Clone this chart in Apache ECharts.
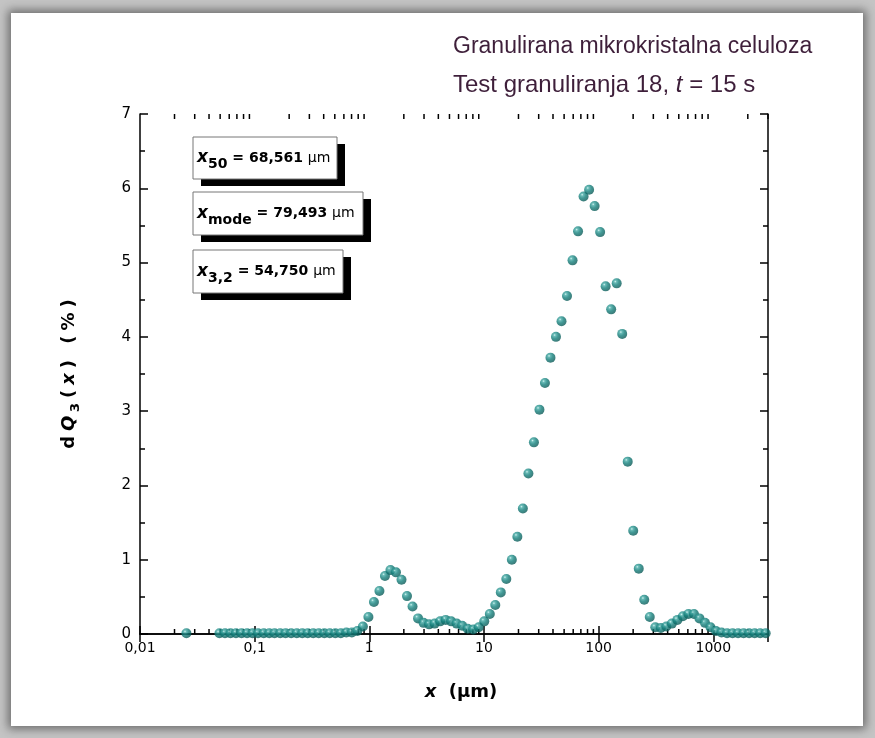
<!DOCTYPE html>
<html><head><meta charset="utf-8">
<script src="https://cdn.jsdelivr.net/npm/echarts@6/dist/echarts.min.js"></script>
<style>
html,body{margin:0;padding:0;width:875px;height:738px;overflow:hidden;background:#c4c4c4;}
#frame{position:absolute;left:11px;top:13px;width:852px;height:713px;background:#fff;box-shadow:0 0 9px 3px rgba(0,0,0,0.45);}
#chart{position:absolute;left:0;top:0;width:875px;height:738px;}
</style></head><body><div id="frame"></div><div id="chart"></div>
<script>
// particle size classes (µm)
const sizes = [0.0254,
  0.0493,0.0551,0.0615,0.0687,0.0768,0.0858,0.0958,0.107,0.120,0.134,
  0.149,0.167,0.186,0.208,0.233,0.260,0.290,0.324,0.362,0.405,
  0.452,0.505,0.564,0.630,0.704,0.786,0.879,0.982,1.097,1.225,
  1.369,1.529,1.708,1.909,2.132,2.382,2.661,2.973,3.321,3.710,
  4.145,4.630,5.173,5.779,6.457,7.213,8.058,9.002,10.06,11.24,
  12.55,14.02,15.67,17.50,19.55,21.84,24.40,27.27,30.46,34.03,
  38.01,42.46,47.45,53.01,59.22,66.15,73.90,82.57,92.24,103.0,
  115.1,128.6,143.7,160.5,179.3,200.3,223.8,250.0,279.3,312.0,
  348.6,389.4,435.1,486.1,543.0,606.7,677.7,757.2,845.9,945.0,
  1056,1179,1318,1472,1644,1837,2052,2293,2562,2862];
// dQ3(x) in %
const dQ3 = [0.01,
  0.01,0.01,0.01,0.01,0.01,0.01,0.01,0.01,0.01,0.01,
  0.01,0.01,0.01,0.01,0.01,0.01,0.01,0.01,0.01,0.01,
  0.01,0.01,0.01,0.02,0.02,0.04,0.10,0.23,0.43,0.58,
  0.78,0.86,0.83,0.73,0.51,0.37,0.21,0.15,0.13,0.14,
  0.17,0.19,0.17,0.14,0.11,0.07,0.06,0.09,0.17,0.27,
  0.39,0.56,0.74,1.00,1.31,1.69,2.16,2.58,3.02,3.38,
  3.72,4.00,4.21,4.55,5.03,5.42,5.89,5.98,5.76,5.41,
  4.68,4.37,4.72,4.04,2.32,1.39,0.88,0.46,0.23,0.09,
  0.08,0.10,0.14,0.19,0.24,0.27,0.27,0.21,0.15,0.09,
  0.04,0.02,0.01,0.01,0.01,0.01,0.01,0.01,0.01,0.01];
const xDecades = [0.01,0.1,1,10,100,1000];
const xTickLabels = ['0,01','0,1','1','10','100','1000'];
const minorMultipliers = [2,3,4,5,6,7,8,9];
const xMin = 0.01, xMax = 3000;
const yMin = 0, yMax = 7, yStep = 1;
const titleLine1 = 'Granulirana mikrokristalna celuloza';
const boxes = [
  {sub:'50', value:'68,561'},
  {sub:'mode', value:'79,493'},
  {sub:'3,2', value:'54,750'}
];

const points = sizes.map((s,i)=>[s,dQ3[i]]);
const minorTicks = [];
xDecades.forEach(d=>minorMultipliers.forEach(m=>{const v=d*m; if(v<=xMax) minorTicks.push([v,yMin]);}));

const chart = echarts.init(document.getElementById('chart'), null, {renderer:'canvas'});
const F = 'DejaVu Sans';
const axisLineStyle = {color:'#000', width:1.5};
const TC = '#3e1f3a';

function labelFmt(v){
  const i = xDecades.findIndex(d=>Math.abs(Math.log10(d)-Math.log10(v))<1e-6);
  return i>=0 ? xTickLabels[i] : '';
}

const boxGeo = [
  {x:193,y:137,w:144,h:42},
  {x:193,y:192,w:170,h:43},
  {x:193,y:250,w:150,h:43}
];
const graphics = [];
boxes.forEach((b,i)=>{
  const g = boxGeo[i];
  graphics.push({type:'rect', shape:{x:g.x+8,y:g.y+7,width:g.w,height:g.h}, style:{fill:'#000'}, z:10});
  graphics.push({type:'rect', shape:{x:g.x,y:g.y,width:g.w,height:g.h}, style:{fill:'#fff',stroke:'#777',lineWidth:1}, z:11});
  graphics.push({type:'text', x:g.x+4, y:g.y+g.h/2, z:12, style:{
    text:'{x|x}{s|'+b.sub+'}{t| = '+b.value+' }{u|µm}',
    verticalAlign:'middle',
    rich:{
      x:{fontFamily:F,fontSize:17,fontStyle:'italic',fontWeight:'bold',fill:'#000'},
      s:{fontFamily:F,fontSize:14,fontWeight:'bold',fill:'#000',padding:[13,0,0,0]},
      t:{fontFamily:F,fontSize:14,fontWeight:'bold',fill:'#000'},
      u:{fontFamily:F,fontSize:14,fill:'#000'}
    }}});
});
graphics.push({type:'text', left:453, top:35, z:12, style:{text:titleLine1, fontFamily:'Liberation Sans', fontSize:23, fill:TC}});
graphics.push({type:'text', left:453, top:73, z:12, style:{
  text:'{a|Test granuliranja 18, }{i|t}{a| = 15 s}',
  rich:{a:{fontFamily:'Liberation Sans',fontSize:24,fill:TC}, i:{fontFamily:'Liberation Sans',fontSize:24,fontStyle:'italic',fill:TC}}}});

const yNameRich = {
  b:{fontFamily:F,fontSize:18,fontWeight:'bold',color:'#000',padding:[0,2.5]},
  i:{fontFamily:F,fontSize:18,fontWeight:'bold',fontStyle:'italic',color:'#000',padding:[0,2.5]},
  s:{fontFamily:F,fontSize:13,fontWeight:'bold',color:'#000',padding:[13,2.5,0,1]}
};

const option = {
  animation:false,
  backgroundColor:'transparent',
  grid:{left:140,right:107,top:114,bottom:104,containLabel:false},
  xAxis:[{
    type:'log', logBase:10, min:xMin, max:xMax, position:'bottom',
    axisLine:{show:true,lineStyle:axisLineStyle},
    axisTick:{show:true,inside:true,length:8,lineStyle:axisLineStyle},
    splitLine:{show:false}, minorTick:{show:false},
    axisLabel:{show:true,formatter:labelFmt,fontFamily:F,fontSize:14,color:'#000',margin:7,showMaxLabel:false},
    name:'{i|x}{b|  (µm)}', nameLocation:'middle', nameGap:49,
    nameTextStyle:{padding:[0,0,0,14],rich:{i:{fontFamily:F,fontSize:18,fontWeight:'bold',fontStyle:'italic',color:'#000'},b:{fontFamily:F,fontSize:18,fontWeight:'bold',color:'#000'}}}
  },{
    type:'log', logBase:10, min:xMin, max:xMax, position:'top',
    axisLine:{show:true,lineStyle:axisLineStyle},
    axisTick:{show:true,inside:true,length:8,lineStyle:axisLineStyle},
    splitLine:{show:false}, axisLabel:{show:false}
  }],
  yAxis:[{
    type:'value', min:yMin, max:yMax, interval:yStep, position:'left',
    axisLine:{show:true,lineStyle:axisLineStyle},
    axisTick:{show:true,inside:true,length:8,lineStyle:axisLineStyle},
    minorTick:{show:true,splitNumber:2,length:5,lineStyle:axisLineStyle},
    splitLine:{show:false},
    axisLabel:{fontFamily:F,fontSize:15,color:'#000',margin:9},
    name:'{b|d}{i|Q}{s|3}{b|(}{i|x}{b|)}{b| }{b|(}{b|%}{b|)}', nameLocation:'middle', nameGap:58, nameRotate:90,
    nameTextStyle:{rich:yNameRich}
  },{
    type:'value', min:yMin, max:yMax, interval:yStep, position:'right',
    axisLine:{show:true,lineStyle:axisLineStyle},
    axisTick:{show:true,inside:true,length:8,lineStyle:axisLineStyle},
    minorTick:{show:true,splitNumber:2,length:5,lineStyle:axisLineStyle},
    splitLine:{show:false}, axisLabel:{show:false}
  }],
  series:[{
    type:'custom', xAxisIndex:0, yAxisIndex:0, data:minorTicks, z:1, silent:true, clip:false,
    renderItem:function(params, api){
      const v = api.value(0);
      const b = api.coord([v, yMin]);
      const t = api.coord([v, yMax]);
      return {type:'group', children:[
        {type:'line', shape:{x1:b[0],y1:b[1],x2:b[0],y2:b[1]-5}, style:{stroke:'#000',lineWidth:1.5}},
        {type:'line', shape:{x1:t[0],y1:t[1],x2:t[0],y2:t[1]+5}, style:{stroke:'#000',lineWidth:1.5}}
      ]};
    }
  },{
    type:'scatter', xAxisIndex:0, yAxisIndex:0, data:points, symbol:'circle', symbolSize:10, z:5, clip:false,
    itemStyle:{color:{type:'radial',x:0.36,y:0.32,r:0.72,colorStops:[
      {offset:0,color:'#c9f1ee'},{offset:0.18,color:'#45aaa5'},{offset:0.5,color:'#137f7b'},{offset:1,color:'#0a5754'}]}}
  }],
  graphic:graphics
};
chart.setOption(option);
</script></body></html>
